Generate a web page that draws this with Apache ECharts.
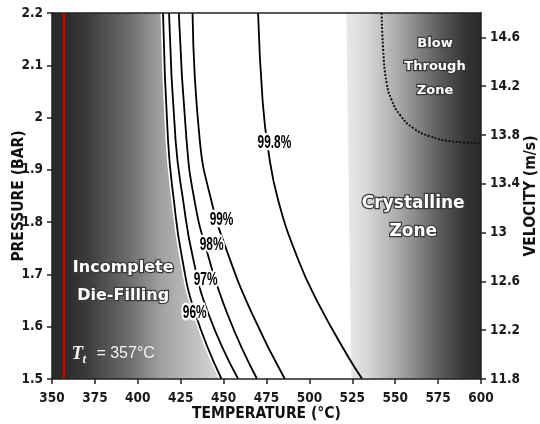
<!DOCTYPE html>
<html><head><meta charset="utf-8">
<script src="https://cdn.jsdelivr.net/npm/echarts@6/dist/echarts.min.js"></script>
<style>html,body{margin:0;padding:0;background:#fff}#c{width:540px;height:424px}</style>
</head><body><div id="c"></div>
<script>
// ---- axes ----
const temperatureLimits = [350, 600];
const temperatureStep = 25;
const pressureLimits = [1.5, 2.2];
const pressureStep = 0.1;
const velocityLimits = [11.8, 14.8];
const velocityTicks = [11.8, 12.2, 12.6, 13.0, 13.4, 13.8, 14.2, 14.6];

// ---- contour curves [temperature °C, pressure bar] ----
const curve96 = [[414.7, 2.2], [417.6, 1.957], [421.0, 1.842], [425.5, 1.737], [433.2, 1.628], [448.8, 1.5]];
const curve97 = [[418.2, 2.2], [422.0, 1.957], [426.4, 1.842], [432.2, 1.731], [441.5, 1.622], [458.5, 1.5]];
const curve98 = [[423.9, 2.2], [428.4, 1.957], [433.0, 1.842], [440.0, 1.747], [452.5, 1.622], [469.5, 1.5]];
const curve99 = [[431.9, 2.2], [436.1, 1.957], [442.8, 1.842], [451.7, 1.747], [467.0, 1.622], [485.7, 1.5]];
const curve998 = [[470.1, 2.2], [472.7, 2.034], [476.0, 1.938], [481.8, 1.842], [493.5, 1.728], [504.2, 1.651], [522.5, 1.543], [530.8, 1.5]];
const curveLabels = ['96%', '97%', '98%', '99%', '99.8%'];
const curveLabelPositions = [[433.2, 1.627], [439.5, 1.689], [443.0, 1.756], [448.8, 1.804], [479.6, 1.952]];

// ---- zones ----
const liquidusLine = [[357, 1.5], [357, 2.2]];
const crystallineEdge = [[521.5, 2.2], [524.5, 1.5]];
const blowThroughCurve = [[542.1, 2.2], [543.0, 2.129], [545.0, 2.066], [547.9, 2.034], [552.8, 2.005], [560.5, 1.980], [570.3, 1.964], [581.9, 1.955], [600, 1.951]];
const zoneLabels = ['Incomplete\nDie-Filling', 'Crystalline\nZone', 'Blow\nThrough\nZone'];
const zoneLabelPositions = [[391.5, 1.686], [560.5, 1.808], [573.2, 2.097]];
const liquidusLabelPosition = [[361.3, 1.548]];

const curves = [curve96, curve97, curve98, curve99, curve998];
const narrow = '"Liberation Sans Narrow", "Arial Narrow", "DejaVu Sans Condensed", sans-serif';

const leftZoneData = [[temperatureLimits[0], pressureLimits[1] + 0.1], [curve96[0][0], pressureLimits[1] + 0.1]].concat(curve96);

const chart = echarts.init(document.getElementById('c'), null, {renderer: 'canvas'});

const axisLabelStyle = {color: '#1a1a1a', fontWeight: 'bold', fontSize: 13.5, fontFamily: narrow};
const axisLineStyle = {show: true, lineStyle: {color: '#222', width: 1.5}};
const axisTickStyle = {show: true, length: 5, inside: false, lineStyle: {color: '#222', width: 1.5}};
const nameStyle = {color: '#111', fontWeight: 'bold', fontSize: 15.5, fontFamily: narrow};
const SMOOTH = 0.5;

const series = [];
series.push({
  type: 'line', name: 'incomplete', data: leftZoneData, smooth: SMOOTH, symbol: 'none', silent: true,
  lineStyle: {width: 0, opacity: 0}, z: 1,
  areaStyle: {opacity: 1, color: new echarts.graphic.LinearGradient(0, 0, 1, 0, [
    {offset: 0, color: '#2a2a2a'}, {offset: 0.07, color: '#2a2a2a'}, {offset: 0.2, color: '#3a3a3a'},
    {offset: 0.45, color: '#6c6c6c'}, {offset: 0.65, color: '#a2a2a2'}, {offset: 1, color: '#dadada'}])}
});
series.push({
  type: 'custom', name: 'crystalline', data: crystallineEdge, z: 1, silent: true,
  renderItem: (params, api) => {
    if (params.dataIndex !== 0) return null;
    const pts = [
      api.coord(crystallineEdge[0]), api.coord([temperatureLimits[1], pressureLimits[1]]),
      api.coord([temperatureLimits[1], pressureLimits[0]]), api.coord(crystallineEdge[1])];
    return {type: 'polygon', shape: {points: pts}, style: {fill: new echarts.graphic.LinearGradient(0, 0, 1, 0, [
      {offset: 0, color: '#e9e9e9'}, {offset: 0.15, color: '#d9d9d9'}, {offset: 0.4, color: '#a6a6a6'},
      {offset: 0.7, color: '#5a5a5a'}, {offset: 0.9, color: '#323232'}, {offset: 1, color: '#2a2a2a'}])}};
  }
});
series.push({type: 'line', data: liquidusLine, symbol: 'none', z: 3, lineStyle: {color: '#d40000', width: 2.5}});
series.push({type: 'line', data: curve96, smooth: SMOOTH, symbol: 'none', z: 3, lineStyle: {color: '#fff', width: 5}});
curves.forEach((c) => {
  series.push({type: 'line', data: c, smooth: SMOOTH, symbol: 'none', z: 4, lineStyle: {color: '#000', width: 1.8}});
});
series.push({type: 'line', data: blowThroughCurve, smooth: SMOOTH, symbol: 'none', z: 4,
  lineStyle: {color: '#111', width: 2, type: [2, 1.6]}});

series.push({
  type: 'custom', data: curveLabelPositions, z: 6, silent: true,
  renderItem: (params, api) => {
    const p = api.coord([api.value(0), api.value(1)]);
    return {type: 'text', x: p[0], y: p[1], scaleX: 0.85, scaleY: 1.3, style: {
      text: curveLabels[params.dataIndex], font: 'bold 14px "Liberation Sans", Arial, sans-serif',
      fill: '#000', stroke: '#fff', lineWidth: 4, strokeFirst: true, align: 'center', verticalAlign: 'middle'}};
  }
});
const zoneFonts = [16, 17, 13];
const zoneLineHeights = [28, 28, 23.5];
series.push({
  type: 'custom', data: zoneLabelPositions, z: 6, silent: true,
  renderItem: (params, api) => {
    const p = api.coord([api.value(0), api.value(1)]);
    const i = params.dataIndex;
    return {type: 'text', x: p[0], y: p[1], style: {
      text: zoneLabels[i], font: 'bold ' + zoneFonts[i] + 'px "DejaVu Sans", Verdana, sans-serif',
      lineHeight: zoneLineHeights[i], fill: '#fff', stroke: '#3a3a3a', lineWidth: 2.5, strokeFirst: true,
      align: 'center', verticalAlign: 'middle'}};
  }
});
series.push({
  type: 'custom', data: liquidusLabelPosition, z: 6, silent: true,
  renderItem: (params, api) => {
    const p = api.coord([api.value(0), api.value(1)]);
    return {type: 'group', x: p[0], y: p[1], children: [
      {type: 'text', x: 0, y: 0, style: {text: 'T', font: 'italic bold 19px "Liberation Serif", "Times New Roman", serif', fill: '#f2f2f2', verticalAlign: 'middle', align: 'left'}},
      {type: 'text', x: 11, y: 6, style: {text: 't', font: 'italic bold 13px "Liberation Serif", "Times New Roman", serif', fill: '#f2f2f2', verticalAlign: 'middle', align: 'left'}},
      {type: 'text', x: 25, y: 0, style: {text: '= 357°C', font: '16px "Liberation Sans", Arial, sans-serif', fill: '#f2f2f2', verticalAlign: 'middle', align: 'left'}}
    ]};
  }
});

chart.setOption({
  animation: false,
  backgroundColor: '#fff',
  grid: {left: 52, right: 59, top: 13, bottom: 45, containLabel: false, outerBoundsMode: 'none'},
  xAxis: [{
    type: 'value', min: temperatureLimits[0], max: temperatureLimits[1], interval: temperatureStep, z: 10,
    name: 'TEMPERATURE (°C)', nameLocation: 'middle', nameGap: 27, nameMoveOverlap: false, nameTextStyle: nameStyle,
    axisLine: axisLineStyle, axisTick: axisTickStyle, splitLine: {show: false},
    axisLabel: Object.assign({margin: 12}, axisLabelStyle)
  }, {
    type: 'value', position: 'top', min: temperatureLimits[0], max: temperatureLimits[1], z: 10,
    axisLine: axisLineStyle, axisTick: {show: false}, axisLabel: {show: false}, splitLine: {show: false}
  }],
  yAxis: [{
    type: 'value', min: pressureLimits[0], max: pressureLimits[1], interval: pressureStep, z: 10,
    name: 'PRESSURE (BAR)', nameLocation: 'middle', nameGap: 25, nameMoveOverlap: false, nameTextStyle: nameStyle,
    axisLine: axisLineStyle, axisTick: axisTickStyle, splitLine: {show: false},
    axisLabel: Object.assign({margin: 9}, axisLabelStyle)
  }, {
    type: 'value', position: 'right', min: velocityLimits[0], max: velocityLimits[1], z: 10,
    name: 'VELOCITY (m/s)', nameLocation: 'middle', nameGap: 42, nameMoveOverlap: false, nameTextStyle: nameStyle,
    axisLine: axisLineStyle, splitLine: {show: false},
    axisTick: Object.assign({customValues: velocityTicks}, axisTickStyle),
    axisLabel: Object.assign({margin: 9, customValues: velocityTicks, formatter: (v) => String(+(+v).toFixed(1))}, axisLabelStyle)
  }],
  series: series
});
</script>
</body></html>
